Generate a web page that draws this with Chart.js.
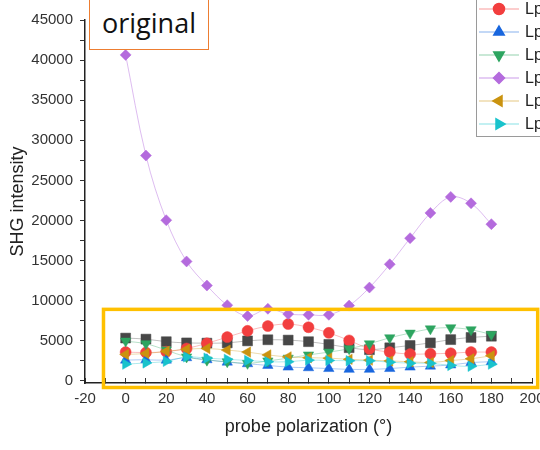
<!DOCTYPE html>
<html lang="en">
<head>
  <meta charset="UTF-8">
  <title>SHG intensity vs probe polarization</title>
  <script src="https://cdn.jsdelivr.net/npm/chart.js"></script>
  <style>
    html, body { margin: 0; padding: 0; background: #fff; overflow: hidden; }
    #wrap { position: relative; width: 540px; height: 450px; }
    #tag {
      position: absolute; left: 89px; top: -3px; width: 120px; height: 53px;
      box-sizing: border-box; border: 1.5px solid #ED7D31; background: #fff;
      font: 27px "Open Sans", "Noto Sans", sans-serif; color: #111;
      text-align: center; line-height: 50px;
    }
  </style>
</head>
<body>
  <div id="wrap">
    <canvas id="shgChart"></canvas>
    <div id="tag">original</div>
  </div>

  <script>
    // probe polarization angles (deg)
    const angles = [0, 10, 20, 30, 40, 50, 60, 70, 80, 90, 100, 110, 120, 130, 140, 150, 160, 170, 180];

    // SHG intensity per series
    const lpBlack  = [5350, 5220, 4900, 4750, 4720, 4750, 5000, 5140, 5100, 4900, 4560, 4150, 3900, 4140, 4430, 4750, 5160, 5430, 5580];
    const lpRed    = [3600, 3550, 3650, 4050, 4700, 5470, 6250, 6850, 7100, 6700, 6000, 5060, 4020, 3600, 3350, 3390, 3460, 3600, 3600];
    const lpBlue   = [2600, 2650, 2600, 2900, 2650, 2350, 2150, 1940, 1730, 1650, 1550, 1450, 1450, 1550, 1730, 1850, 2000, 2300, 2400];
    const lpGreen  = [4970, 4640, 3850, 3000, 2600, 2400, 2200, 2500, 2850, 3250, 3600, 4020, 4640, 5390, 5970, 6500, 6640, 6390, 5800];
    const lpPurple = [40650, 28100, 20040, 14900, 11900, 9450, 8100, 9000, 8350, 8250, 8250, 9400, 11650, 14550, 17800, 20950, 22950, 22150, 19550];
    const lpGold   = [3310, 3420, 3700, 3950, 4050, 3850, 3600, 3250, 3000, 2900, 2850, 2700, 2600, 2500, 2400, 2300, 2550, 2770, 3150];
    const lpCyan   = [2100, 2250, 2450, 3000, 2850, 2700, 2560, 2400, 2400, 2600, 2560, 2530, 2520, 2350, 2220, 2200, 1940, 1830, 2100];

    const seriesNames = ["Lp1", "Lp2", "Lp3", "Lp4", "Lp5", "Lp6", "Lp7"];

    // tick positions (major ones get a label)
    const yTicks = [0, 2500, 5000, 7500, 10000, 12500, 15000, 17500, 20000, 22500, 25000, 27500, 30000, 32500, 35000, 37500, 40000, 42500, 45000];
    const yLabelStep = 5000;
    const xLabelStep = 20;

    // highlighted region (data units)
    const boxX = [-10.9, 202.8];
    const boxY = [-810, 8930];

    const styles = [
      { color: "#474747", line: "rgba(71,71,71,0.35)",    shape: "rect",     rot: 0,   r: 7 },
      { color: "#F23E3E", line: "rgba(242,62,62,0.35)",   shape: "circle",   rot: 0,   r: 5.5 },
      { color: "#1866DE", line: "rgba(24,102,222,0.35)",  shape: "triangle", rot: 0,   r: 6 },
      { color: "#2DA560", line: "rgba(45,165,96,0.35)",   shape: "triangle", rot: 180, r: 6 },
      { color: "#B46BDD", line: "rgba(180,107,221,0.45)", shape: "rectRot",  rot: 0,   r: 5.5 },
      { color: "#CA930F", line: "rgba(202,147,15,0.35)",  shape: "triangle", rot: -90, r: 6 },
      { color: "#19C3CC", line: "rgba(25,195,204,0.35)",  shape: "triangle", rot: 90,  r: 6 },
    ];

    const allSeries = [lpBlack, lpRed, lpBlue, lpGreen, lpPurple, lpGold, lpCyan];

    const datasets = allSeries.map((vals, i) => ({
      label: seriesNames[i],
      data: angles.map((a, j) => ({ x: a, y: vals[j] })),
      borderColor: styles[i].line,
      borderWidth: 1,
      backgroundColor: styles[i].color,
      pointBackgroundColor: styles[i].color,
      pointBorderColor: styles[i].color,
      pointBorderWidth: 0.5,
      pointStyle: styles[i].shape,
      pointRotation: styles[i].rot,
      pointRadius: styles[i].r,
      tension: 0.35,
      order: allSeries.length - i, // later series on top
    }));

    // legend box at the top right plus the yellow highlight frame
    const extras = {
      id: "extras",
      afterDraw(chart) {
        const ctx = chart.ctx;
        const xs = chart.scales.x, ys = chart.scales.y;

        // yellow frame
        ctx.save();
        ctx.strokeStyle = "#FFC000";
        ctx.lineWidth = 3.5;
        const x0 = xs.getPixelForValue(boxX[0]), x1 = xs.getPixelForValue(boxX[1]);
        const y0 = ys.getPixelForValue(boxY[1]), y1 = ys.getPixelForValue(boxY[0]);
        ctx.strokeRect(x0, y0, x1 - x0, y1 - y0);
        ctx.restore();

        // legend
        const lx = 476.5, rowH = 23, firstRow = -14;
        ctx.save();
        ctx.fillStyle = "#fff";
        ctx.fillRect(lx, -2, 80, 139);
        ctx.strokeStyle = "#9a9a9a";
        ctx.lineWidth = 1;
        ctx.strokeRect(lx, -2, 80, 138.5);
        ctx.font = "16px 'Liberation Sans', Arial, sans-serif";
        ctx.textBaseline = "middle";
        styles.forEach((s, i) => {
          const y = firstRow + i * rowH;
          ctx.strokeStyle = s.line;
          ctx.lineWidth = 1.5;
          ctx.beginPath();
          ctx.moveTo(479, y);
          ctx.lineTo(519, y);
          ctx.stroke();
          ctx.fillStyle = s.color;
          ctx.strokeStyle = s.color;
          Chart.helpers.drawPoint(ctx, { pointStyle: s.shape, rotation: s.rot, radius: s.r, borderWidth: 0.5 }, 499, y);
          ctx.fillStyle = "#222";
          ctx.fillText(seriesNames[i], 525, y + 1);
        });
        ctx.restore();
      }
    };

    const tickColor = "#333";
    const axisFont = { family: "'Liberation Sans', Arial, sans-serif", size: 15 };
    const titleFont = { family: "'Liberation Sans', Arial, sans-serif", size: 18 };

    new Chart(document.getElementById("shgChart"), {
      type: "line",
      data: { datasets },
      options: {
        responsive: true,
        maintainAspectRatio: false,
        animation: false,
        layout: { padding: { top: 20, right: 8, left: 0, bottom: 0 } },
        plugins: {
          legend: { display: false },
          tooltip: { enabled: false },
        },
        scales: {
          x: {
            type: "linear",
            min: -20,
            max: 200,
            grid: { drawOnChartArea: false, tickLength: -5, tickColor: tickColor, tickWidth: 1 },
            border: { color: "#222", width: 1.5 },
            ticks: {
              stepSize: 10,
              autoSkip: false,
              maxRotation: 0,
              padding: 12,
              color: "#333",
              font: axisFont,
              callback: v => (v % xLabelStep === 0 ? String(v) : ""),
            },
            title: {
              display: true,
              text: "probe polarization (°)",
              color: "#222",
              font: titleFont,
              padding: { top: 0, bottom: 12 },
            },
            afterFit(scale) {
              scale.height = 67;
              scale.paddingLeft = 0;
              scale.paddingRight = 0;
            },
          },
          y: {
            min: -250,
            max: 45000,
            grid: { drawOnChartArea: false, tickLength: 5, tickWidth: 1, tickColor: tickColor },
            border: { color: "#222", width: 1.5 },
            afterBuildTicks(scale) {
              scale.ticks = yTicks.map(v => ({ value: v }));
            },
            ticks: {
              autoSkip: false,
              padding: 7,
              color: "#333",
              font: axisFont,
              callback: v => (v % yLabelStep === 0 ? String(v) : ""),
            },
            title: {
              display: true,
              text: "SHG intensity",
              color: "#222",
              font: titleFont,
              padding: { top: 7, bottom: 0 },
            },
            afterFit(scale) {
              scale.width = 85;
              scale.paddingTop = 0;
              scale.paddingBottom = 0;
            },
          },
        },
      },
      plugins: [extras],
    });
  </script>
</body>
</html>
